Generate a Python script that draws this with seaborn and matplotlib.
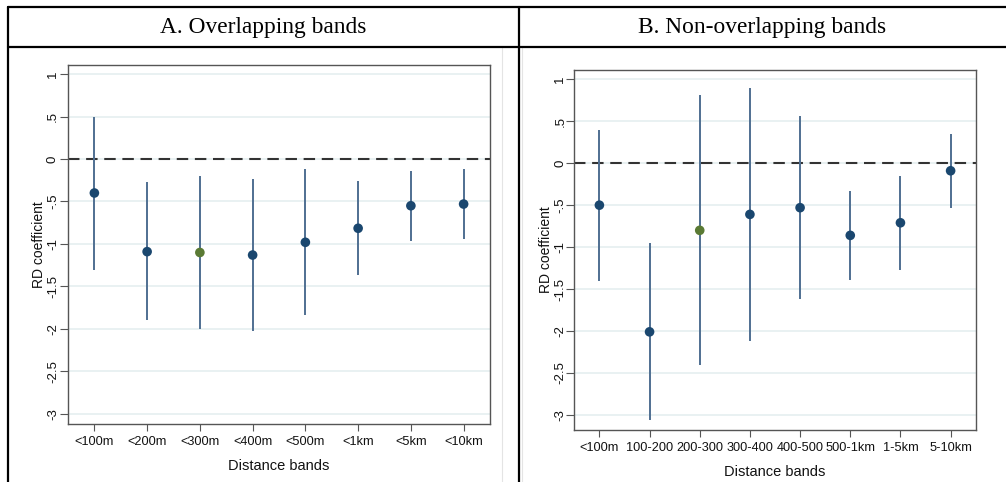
import numpy as np
import pandas as pd
import matplotlib
matplotlib.use("Agg")
import matplotlib.pyplot as plt
import seaborn as sns
from matplotlib.lines import Line2D
from matplotlib.ticker import FixedLocator, FuncFormatter

# ---------------- data ----------------
bands_a = ["<100m", "<200m", "<300m", "<400m", "<500m", "<1km", "<5km", "<10km"]
coef_a = [-0.40, -1.09, -1.10, -1.13, -0.98, -0.815, -0.55, -0.53]
lo_a = [-1.31, -1.90, -2.00, -2.02, -1.835, -1.37, -0.96, -0.94]
hi_a = [0.50, -0.27, -0.20, -0.235, -0.12, -0.26, -0.14, -0.12]
highlight_a = "<300m"

bands_b = ["<100m", "100-200", "200-300", "300-400", "400-500", "500-1km", "1-5km", "5-10km"]
coef_b = [-0.50, -2.01, -0.80, -0.61, -0.53, -0.86, -0.71, -0.09]
lo_b = [-1.40, -3.06, -2.405, -2.115, -1.615, -1.39, -1.27, -0.53]
hi_b = [0.40, -0.955, 0.81, 0.90, 0.56, -0.33, -0.15, 0.35]
highlight_b = "200-300"

titles = ["A. Overlapping bands", "B. Non-overlapping bands"]
yticks = [1, 0.5, 0, -0.5, -1, -1.5, -2, -2.5, -3]
xlabel = "Distance bands"
ylabel = "RD coefficient"

NAVY = "#1a476f"
GREEN = "#5a7a34"
CI_COL = "#4f6f92"
GRID = "#e9f1f2"

sns.set_theme(style="white")
plt.rcParams["font.family"] = ["Liberation Sans", "DejaVu Sans"]

fig = plt.figure(figsize=(10.06, 4.82), dpi=100)
W, H = 1006.0, 482.0


def fx(px):
    return px / W


def fy(py):
    return 1 - py / H


def stata_fmt(v, pos):
    if abs(v) < 1e-9:
        return "0"
    s = ("%g" % v)
    s = s.replace("0.", ".")
    return s


def panel(rect, cats, coef, lo, hi, highlight, ylim, ylab_x, ypad):
    ax = fig.add_axes(rect)
    df = pd.DataFrame({"band": cats, "coef": coef, "lo": lo, "hi": hi})
    df["pos"] = np.arange(len(df))
    df["grp"] = np.where(df["band"] == highlight, "hl", "base")
    for yv in yticks:
        ax.axhline(yv, color=GRID, lw=1.4, zorder=0)
    ax.axhline(0, color="#333333", lw=1.5, ls=(0, (5.5, 3.2)), zorder=1)
    ax.vlines(df["pos"], df["lo"], df["hi"], color=CI_COL, lw=1.4, zorder=2)
    sns.scatterplot(data=df, x="pos", y="coef", hue="grp",
                    palette={"base": NAVY, "hl": GREEN}, s=48,
                    edgecolor="none", legend=False, ax=ax, zorder=3)
    ax.set_xlim(-0.5, len(cats) - 0.5)
    ax.set_ylim(*ylim)
    ax.xaxis.set_major_locator(FixedLocator(df["pos"].tolist()))
    ax.set_xticklabels(cats, fontsize=9.2)
    ax.yaxis.set_major_locator(FixedLocator(yticks))
    ax.yaxis.set_major_formatter(FuncFormatter(stata_fmt))
    for lab in ax.get_yticklabels():
        lab.set_rotation(90)
        lab.set_va("center")
        lab.set_fontsize(9.5)
    ax.tick_params(axis="x", which="major", length=5, width=0.8,
                   color="#555555", labelcolor="#111111", pad=3.5, bottom=True)
    ax.tick_params(axis="y", which="major", length=5.5, width=0.8,
                   color="#555555", labelcolor="#111111", pad=ypad, left=True)
    ax.set_xlabel(xlabel, fontsize=10.5, color="#111111", labelpad=8)
    ax.set_ylabel(ylabel, fontsize=10, color="#111111")
    ax.yaxis.set_label_coords(ylab_x, 0.5)
    for sp in ax.spines.values():
        sp.set_color("#555555")
        sp.set_linewidth(1.0)
    ax.grid(False)
    return ax


axA = panel([fx(68), fy(424), fx(490 - 68), (424 - 65) / H],
            bands_a, coef_a, lo_a, hi_a, highlight_a, (-3.118, 1.106), -0.053, 1.0)
axB = panel([fx(574.3), fy(430), fx(975.7 - 574.3), (430 - 70) / H],
            bands_b, coef_b, lo_b, hi_b, highlight_b, (-3.18, 1.111), -0.054, 0.2)

# ---------------- table frame ----------------
lk = dict(color="black", lw=1.6, transform=fig.transFigure, zorder=10)
fig.add_artist(Line2D([fx(8), 1.0], [fy(7), fy(7)], **lk))
fig.add_artist(Line2D([fx(8), 1.0], [fy(47), fy(47)], **lk))
fig.add_artist(Line2D([fx(8), fx(8)], [fy(7), 0], **lk))
fig.add_artist(Line2D([fx(519), fx(519)], [fy(7), 0], **lk))
fk = dict(color="#e4e4e4", lw=0.8, transform=fig.transFigure, zorder=5)
fig.add_artist(Line2D([fx(502), fx(502)], [fy(48), 0], **fk))
fig.add_artist(Line2D([fx(521.5), fx(521.5)], [fy(48), 0], **fk))

tk = dict(fontsize=16.8, family=["Liberation Serif", "DejaVu Serif"],
          ha="center", va="center", color="black")
fig.text(fx(263.5), fy(27.5), titles[0], **tk)
fig.text(fx(762), fy(27.5), titles[1], **tk)

fig.savefig("out.png", dpi=100)
